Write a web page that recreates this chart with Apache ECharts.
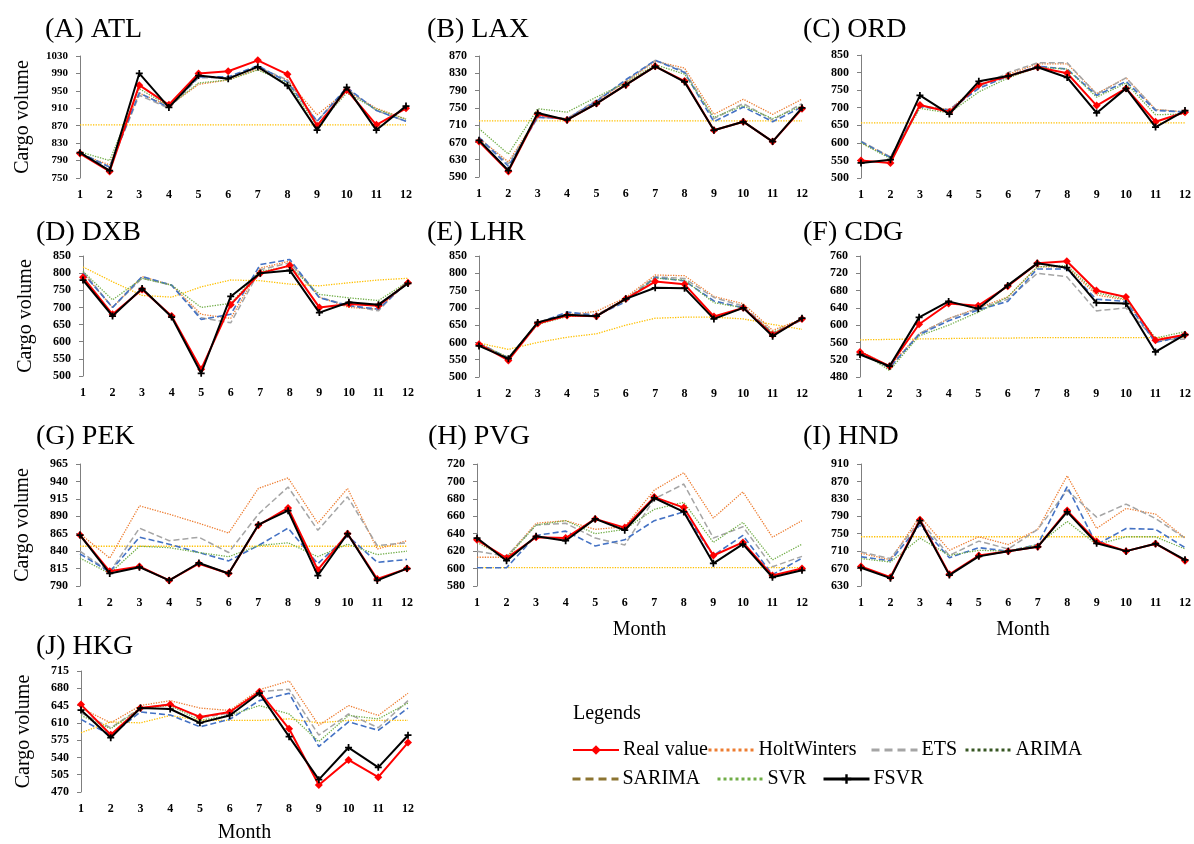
<!DOCTYPE html>
<html>
<head>
<meta charset="utf-8">
<script src="https://cdn.jsdelivr.net/npm/echarts@6/dist/echarts.min.js"></script>
<style>
html,body{margin:0;padding:0;background:#fff;}
#main{width:1194px;height:844px;}
</style>
</head>
<body>
<div id="main"></div>
<script>
// ---------- DATA ----------
const months = ['1','2','3','4','5','6','7','8','9','10','11','12'];
const seriesNames = ['Real value','HoltWinters','ETS','ARIMA','SARIMA','SVR','FSVR'];
const panelTitles = ['(A) ATL','(B) LAX','(C) ORD','(D) DXB','(E) LHR','(F) CDG','(G) PEK','(H) PVG','(I) HND','(J) HKG'];

// each panel: rows in order of seriesNames
const ATL = [
  [806,765,963,918,990,995,1020,988,870,952,872,910],
  [805,780,945,915,965,975,1000,975,895,950,910,885],
  [808,775,940,910,980,980,1005,975,880,955,905,880],
  [872,872,872,872,872,872,872,872,872,872,872,872],
  [808,775,945,912,982,982,1008,970,880,958,905,880],
  [810,790,955,915,968,975,998,968,870,945,908,885],
  [808,767,990,912,985,978,1005,962,860,958,860,915]
];
const LAX = [
  [672,603,735,722,760,803,846,812,698,718,672,748],
  [680,625,730,725,765,810,858,842,735,770,735,770],
  [680,620,728,725,768,812,860,835,725,760,722,760],
  [720,720,720,720,720,720,720,720,720,720,720,720],
  [682,615,728,725,765,815,860,832,718,752,718,752],
  [702,643,748,740,775,808,850,828,728,755,725,755],
  [675,605,738,722,760,803,846,810,698,718,672,750]
];
const ORD = [
  [550,543,708,688,765,790,815,798,706,755,660,687],
  [600,560,705,695,765,795,825,825,740,785,695,688],
  [605,560,705,695,760,800,828,828,738,785,695,688],
  [657,657,657,657,657,657,657,657,657,657,657,657],
  [603,558,703,693,755,790,818,810,735,775,692,688],
  [600,555,698,685,745,785,815,810,730,770,680,682],
  [543,552,735,682,775,790,815,786,685,755,645,692]
];
const DXB = [
  [788,680,752,675,520,708,800,822,700,710,705,772],
  [800,700,790,765,680,668,815,835,730,700,695,775],
  [805,700,785,765,670,655,810,830,730,705,690,780],
  [818,775,735,730,760,780,778,768,763,772,780,785],
  [800,700,790,765,665,680,825,840,728,705,695,775],
  [805,722,785,765,700,712,805,820,738,728,720,775],
  [780,675,755,672,508,732,800,808,685,715,708,770]
];
const LHR = [
  [595,548,655,678,676,726,776,768,675,700,622,668],
  [598,555,658,680,690,730,795,793,733,712,635,668],
  [597,555,658,685,680,725,790,785,730,705,628,668],
  [598,580,600,615,625,650,670,673,673,668,652,638],
  [597,555,655,688,678,718,788,778,720,700,625,665],
  [595,557,652,675,678,722,786,780,715,700,628,665],
  [590,553,658,680,676,726,758,757,668,700,618,670]
];
const CDG = [
  [538,505,602,650,645,690,743,748,680,665,565,578],
  [540,505,580,615,640,665,735,735,670,658,560,578],
  [538,500,580,615,638,660,720,712,633,640,565,568],
  [566,567,568,569,570,570,571,571,571,571,571,572],
  [538,502,578,610,635,655,730,730,660,655,560,575],
  [540,495,575,600,630,665,735,738,675,660,570,585],
  [532,505,618,655,638,692,743,733,652,650,538,578]
];
const PEK = [
  [863,811,818,798,822,808,877,902,813,865,800,815],
  [865,830,905,893,880,866,930,945,880,930,843,855],
  [840,810,873,855,860,838,893,932,870,918,848,852],
  [847,847,847,847,847,847,847,847,847,847,847,847],
  [836,810,860,850,838,826,848,873,822,862,824,828],
  [830,808,847,845,838,832,848,852,832,850,835,840],
  [863,808,817,798,823,808,878,898,805,865,798,815]
];
const PVG = [
  [633,612,636,635,657,647,682,670,615,630,592,600],
  [613,613,652,655,645,648,690,710,658,688,636,655],
  [620,614,650,652,635,627,680,697,635,648,602,614],
  [601,601,601,601,601,601,601,601,601,601,601,601],
  [601,601,638,643,626,633,655,665,615,638,593,612],
  [630,612,650,655,640,645,668,676,630,653,610,628],
  [635,609,637,632,657,644,681,665,606,628,590,598]
];
const HND = [
  [675,650,782,657,700,710,720,803,732,710,727,688],
  [705,690,790,712,743,725,760,883,762,808,795,740],
  [708,693,780,700,733,715,760,850,788,818,785,740],
  [743,743,743,743,743,743,743,743,743,743,743,743],
  [697,688,770,695,718,710,725,858,725,762,760,718],
  [693,685,740,700,712,710,725,778,725,743,743,715],
  [672,648,780,655,698,710,720,800,728,710,727,690]
];
const HKG = [
  [647,586,640,647,622,632,673,598,484,535,500,570],
  [640,610,645,655,640,635,677,695,605,645,625,670],
  [630,600,640,648,620,630,673,678,585,628,600,655],
  [590,612,610,625,615,615,615,618,610,615,615,615],
  [617,585,632,626,602,617,655,670,562,612,595,640],
  [625,598,640,645,615,625,645,628,572,625,618,650],
  [636,580,640,638,610,625,670,582,495,560,520,585]
];
const panelData = [ATL, LAX, ORD, DXB, LHR, CDG, PEK, PVG, HND, HKG];

// y tick labels per panel
const yTicks = [
  [750,790,830,870,910,950,990,1030],
  [590,630,670,710,750,790,830,870],
  [500,550,600,650,700,750,800,850],
  [500,550,600,650,700,750,800,850],
  [500,550,600,650,700,750,800,850],
  [480,520,560,600,640,680,720,760],
  [790,815,840,865,890,915,940,965],
  [580,600,620,640,660,680,700,720],
  [630,670,710,750,790,830,870,910],
  [470,505,540,575,610,645,680,715]
];

// ---------- LAYOUT ----------
const FONT = 'Liberation Serif';
const grids = [
  {left:80, top:56, width:326, height:122},
  {left:479, top:56, width:323, height:121},
  {left:861, top:55, width:326, height:123},
  {left:83, top:256, width:325, height:120},
  {left:479, top:256, width:323, height:121},
  {left:860, top:256, width:327, height:121},
  {left:80, top:464, width:327, height:122},
  {left:477, top:464, width:325, height:122},
  {left:861, top:464, width:326, height:122},
  {left:81, top:671, width:327, height:121}
];
const titlePos = [[45,16],[427,16],[803,16],[36,219],[427,219],[803,219],[36,423],[428,423],[803,423],[36,633]];
const showYName = [true,false,false,true,false,false,true,false,false,true];
const monthGap = [0,0,0,0,0,0,0,0,34,34,31].slice(1);

const styles = [
  {color:'#FF0000', width:2, type:'solid', symbol:'diamond', size:8, z:8},
  {color:'#ED7D31', width:1.3, type:'dotted', symbol:'none', z:3},
  {color:'#A5A5A5', width:1.5, type:[6,3], symbol:'none', z:3},
  {color:'#FFC000', width:1.3, type:'dotted', symbol:'none', z:2},
  {color:'#4472C4', width:1.6, type:[6,3], symbol:'none', z:4},
  {color:'#70AD47', width:1.3, type:'dotted', symbol:'none', z:4},
  {color:'#000000', width:2, type:'solid', symbol:'path://M3,0H5V8H3Z M0,3H8V5H0Z', size:7, z:9}
];

const titles = panelTitles.map((t,i)=>({
  text:t, left:titlePos[i][0], top:titlePos[i][1], padding:0,
  textStyle:{fontFamily:FONT, fontSize:28, fontWeight:'normal', color:'#000'}
}));
titles.push({text:'Legends', left:573, top:704, padding:0,
  textStyle:{fontFamily:FONT, fontSize:20, fontWeight:'normal', color:'#000'}});

const xAxes = grids.map((g,i)=>({
  type:'category', gridIndex:i, data:months, boundaryGap:false,
  axisLine:{show:false}, axisTick:{show:false},
  axisLabel:{fontFamily:FONT, fontWeight:'bold', fontSize:12, color:'#000', margin:11, interval:0},
  name: monthGap[i] ? 'Month' : '', nameLocation:'middle', nameGap: monthGap[i],
  nameTextStyle:{fontFamily:FONT, fontSize:20, color:'#000'}
}));

const yAxes = grids.map((g,i)=>{
  const t = yTicks[i];
  return {
    type:'value', gridIndex:i, min:t[0], max:t[t.length-1], interval:t[1]-t[0],
    axisLine:{show:true, lineStyle:{color:'#7F7F7F', width:1}},
    axisTick:{show:true, length:4, lineStyle:{color:'#7F7F7F'}, customValues:t},
    axisLabel:{customValues:t, formatter:(v)=>String(v), fontFamily:FONT, fontWeight:'bold', fontSize: i===0 ? 11 : 12, color:'#000', margin:12},
    splitLine:{show:false},
    name: showYName[i] ? 'Cargo volume' : '', nameLocation:'middle', nameGap:47, nameRotate:90,
    nameTextStyle:{fontFamily:FONT, fontSize:20, color:'#000'}
  };
});

const drawOrder = [3,1,2,4,5,0,6];
const series = [];
panelData.forEach((rows,p)=>{
  drawOrder.forEach(k=>{
    const s = styles[k];
    series.push({
      type:'line', name:seriesNames[k], xAxisIndex:p, yAxisIndex:p,
      data:rows[k], z:s.z,
      symbol:s.symbol, symbolSize:s.size||0, showSymbol:s.symbol!=='none',
      itemStyle:{color:s.color},
      lineStyle:{color:s.color, width:s.width, type:s.type},
      emphasis:{disabled:true}, silent:true
    });
  });
});

// legend entries (appearance as in reference legend)
const legendItems = [
  {name:'Real value', left:572, top:740, line:{color:'#FF0000', width:2, type:'solid'}, item:{color:'#FF0000'}},
  {name:'HoltWinters', left:707, top:740, line:{color:'#ED7D31', width:3, type:'dotted'}},
  {name:'ETS', left:870, top:740, line:{color:'#A5A5A5', width:3, type:[8,5]}},
  {name:'ARIMA', left:964, top:740, line:{color:'#375623', width:3, type:'dotted'}},
  {name:'SARIMA', left:571, top:769, line:{color:'#8C7431', width:3, type:[8,5]}},
  {name:'SVR', left:716, top:769, line:{color:'#70AD47', width:3, type:'dotted'}},
  {name:'FSVR', left:822, top:769, line:{color:'#000000', width:3, type:'solid'}, item:{color:'#000000'}}
];
const legends = legendItems.map(l=>({
  left:l.left, top:l.top, padding:0, itemWidth:46, itemHeight:12,
  selectedMode:false,
  data:[{name:l.name, lineStyle:l.line, itemStyle:l.item || {color:l.line.color, opacity:0}}],
  textStyle:{fontFamily:FONT, fontSize:20, color:'#000', padding:[0,0,0,-1]}
}));

const chart = echarts.init(document.getElementById('main'), null, {renderer:'canvas'});
chart.setOption({
  animation:false,
  backgroundColor:'#ffffff',
  title:titles,
  legend:legends,
  grid:grids,
  xAxis:xAxes,
  yAxis:yAxes,
  series:series
});
</script>
</body>
</html>
